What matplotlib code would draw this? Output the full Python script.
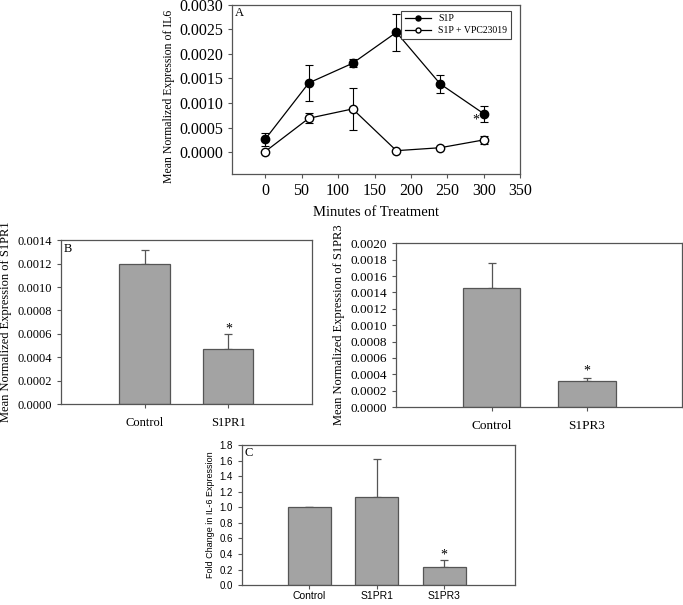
import numpy as np
import matplotlib.pyplot as plt

# panel A: time course
minutes = [0, 60, 120, 180, 240, 300]
s1p = [0.00026, 0.00141, 0.00181, 0.00244, 0.00139, 0.00078]
s1p_err = [0.00013, 0.00037, 0.00008, 0.00037, 0.00018, 0.00016]
vpc = [0.00001, 0.00069, 0.00088, 0.00003, 0.00009, 0.00025]
vpc_err = [0.0, 0.00010, 0.00042, 0.0, 0.0, 0.00008]

# panel B: knockdowns
b1_labels = ['Control', 'S1PR1']
b1_vals = [0.00120, 0.00047]
b1_err = [0.00012, 0.00013]
b3_labels = ['Control', 'S1PR3']
b3_vals = [0.00145, 0.00032]
b3_err = [0.00031, 0.00004]

# panel C: fold change
c_labels = ['Control', 'S1PR1', 'S1PR3']
c_vals = [1.0, 1.14, 0.23]
c_err = [0.0, 0.48, 0.09]

serif = 'Liberation Serif'
sans = 'Liberation Sans'
bar_fc = '#a3a3a3'
bar_ec = '#555555'
spine_c = '#555555'

fig = plt.figure(figsize=(6.83, 6.05), dpi=100)


def style_box(ax, fam, size):
    for s in ax.spines.values():
        s.set_color(spine_c)
        s.set_linewidth(0.9)
    ax.tick_params(direction='out', length=3, width=0.8, color=spine_c,
                   labelsize=size, top=False, right=False)
    for lab in ax.get_xticklabels() + ax.get_yticklabels():
        lab.set_family(fam)


# ---- A ----
axA = fig.add_axes([0.340, 0.712, 0.422, 0.280])
for yv, ye, fc, name in [(s1p, s1p_err, 'black', 'S1P'),
                         (vpc, vpc_err, 'white', 'S1P + VPC23019')]:
    axA.errorbar(minutes, yv, yerr=ye, fmt='none', ecolor='black', elinewidth=0.8,
                 capsize=3, capthick=0.8)
    axA.plot(minutes, yv, color='black', lw=0.9, marker='o', ms=6, mfc=fc,
             mec='black', label=name)
axA.set_xlim(-45, 350)
axA.set_ylim(-0.00045, 0.0030)
axA.set_xticks(np.arange(0, 351, 50))
axA.set_yticks(np.arange(0, 0.00301, 0.0005))
axA.yaxis.set_major_formatter(plt.FormatStrFormatter('%.4f'))
style_box(axA, serif, 11.5)
axA.set_xlabel('Minutes of Treatment', family=serif, fontsize=10.5, labelpad=5)
fig.text(0.247, 1 - 183 / 605, 'Mean Normalized Expression of IL6', rotation=90,
         ha='center', va='bottom', family=serif, fontsize=8.5)
axA.text(0.01, 0.985, 'A', transform=axA.transAxes, family=serif, fontsize=9,
         va='top', ha='left')
axA.text(289, 0.00066, '*', family=serif, fontsize=10, ha='center', va='center')
leg = axA.legend(loc='upper right', prop={'family': serif, 'size': 7}, fancybox=False,
                 edgecolor='#444444', framealpha=1, handlelength=2.6, borderpad=0.4,
                 markerscale=0.6, labelspacing=0.3, bbox_to_anchor=(0.985, 0.995))
leg.get_frame().set_linewidth(0.8)


def bar_panel(rect, labels, vals, errs, ylim, yticks, fmt, fam, tsize, lsize,
              ylabel, ysize, letter, star, xlim, width, labelpad, xpad):
    ax = fig.add_axes(rect)
    x = np.arange(len(labels))
    ax.bar(x, vals, width=width, color=bar_fc, edgecolor=bar_ec, linewidth=0.9, zorder=2)
    ax.errorbar(x, vals, yerr=[np.zeros(len(errs)), errs], fmt='none', ecolor=bar_ec,
                elinewidth=0.9, capsize=3, capthick=0.9, zorder=1)
    ax.set_xlim(*xlim)
    ax.set_ylim(*ylim)
    ax.set_yticks(yticks)
    ax.yaxis.set_major_formatter(plt.FormatStrFormatter(fmt))
    ax.set_xticks(x)
    ax.set_xticklabels(labels)
    style_box(ax, fam, tsize)
    for lab in ax.get_xticklabels():
        lab.set_fontsize(lsize)
    ax.tick_params(axis='x', pad=xpad)
    ax.set_ylabel(ylabel, family=fam, fontsize=ysize, labelpad=labelpad)
    ax.text(0.01, 0.985, letter, transform=ax.transAxes, family=serif, fontsize=9,
            va='top', ha='left')
    if star is not None:
        i, yv = star
        ax.text(i, yv, '*', family=serif, fontsize=10, ha='center', va='center')
    return ax


bar_panel([0.089, 0.332, 0.368, 0.271], b1_labels, b1_vals, b1_err,
          (0, 0.0014), np.arange(0, 0.00141, 0.0002), '%.4f', serif, 9, 9,
          'Mean Normalized Expression of S1PR1', 9, 'B', (1, 0.00064), (-1, 2), 0.6, 4, 6)
bar_panel([0.580, 0.327, 0.419, 0.271], b3_labels, b3_vals, b3_err,
          (0, 0.0020), np.arange(0, 0.00201, 0.0002), '%.4f', serif, 9.5, 9.5,
          'Mean Normalized Expression of S1PR3', 9, '', (1, 0.00044), (-1, 2), 0.6, 4, 6)
bar_panel([0.354, 0.033, 0.400, 0.231], c_labels, c_vals, c_err,
          (0, 1.8), np.arange(0, 1.81, 0.2), '%.1f', sans, 7, 7.5,
          'Fold Change in IL-6 Expression', 6.5, 'C', (2, 0.38), (-1, 3.05), 0.64, 3, 1.5)

fig.savefig('out.png', dpi=100)
